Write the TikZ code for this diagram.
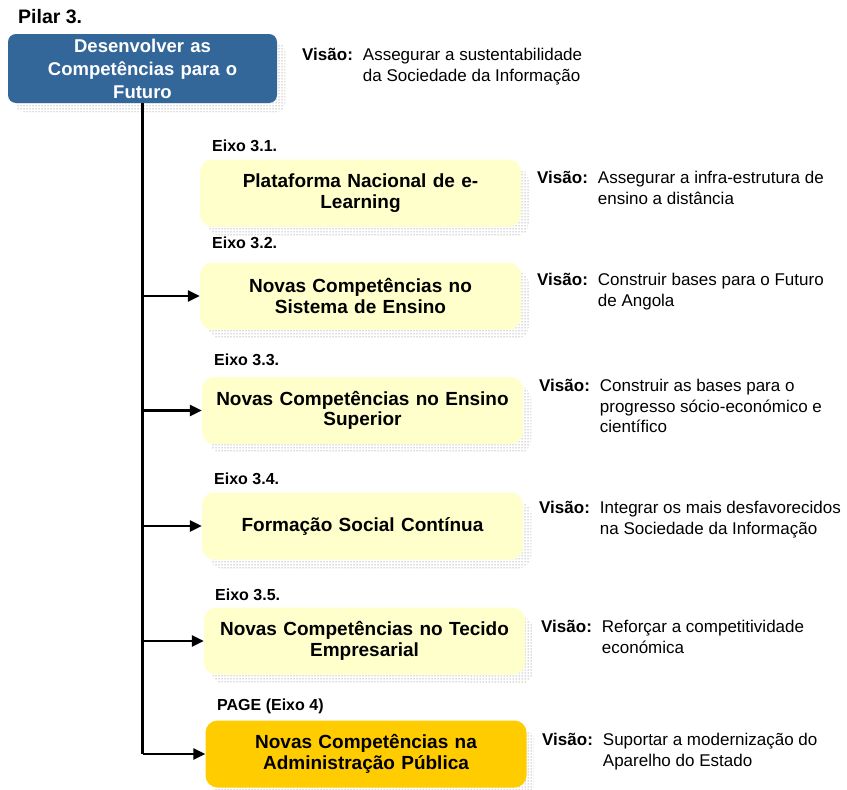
\documentclass[tikz,border=0pt]{standalone}
\usepackage{fontspec}
\setmainfont{Liberation Sans}
\usepackage{tikz}
\usetikzlibrary{arrows.meta,positioning,patterns}
\usepackage{xcolor}
\definecolor{pilarblue}{HTML}{336699}
\definecolor{eixoyellow}{HTML}{FFFFCC}
\definecolor{pageyellow}{HTML}{FFCC00}

\begin{document}
\begin{tikzpicture}[x=1pt, y=-1pt,
	dotshadow/.style={preaction={pattern=dots, pattern color=black!60,
		transform canvas={xshift=8pt, yshift=-9pt}}},
	pilarbox/.style={rounded corners=8pt, fill=pilarblue, text=white, dotshadow,
		minimum width=269pt, minimum height=69pt, text width=250pt, align=center,
		inner sep=0pt, font=\bfseries\fontsize{18.5}{23}\selectfont},
	eixobox/.style={rounded corners=12pt, fill=eixoyellow, dotshadow,
		minimum width=321pt, minimum height=67pt, text width=300pt, align=center,
		inner sep=0pt, font=\bfseries\fontsize{19}{20.5}\selectfont},
	eixolabel/.style={anchor=west, inner sep=0pt, font=\bfseries\fontsize{16}{19}\selectfont},
	visao/.style={anchor=west, inner sep=0pt, font=\fontsize{17}{20.5}\selectfont},
	seta/.style={-{Triangle[length=12pt,width=11pt]}, line width=2.4pt}]
	\useasboundingbox (0,0) rectangle (847,790);

	\node[anchor=west, inner sep=0pt, font=\bfseries\fontsize{19.5}{22}\selectfont] (pilartit) at (18,17) {Pilar 3.};
	\node[pilarbox] (pilar) at (142.5,68.5) {Desenvolver as\\Competências para o\\Futuro};
	\node[visao] (vpilar) at (302,67) {\begin{tabular}{@{}l@{\hskip 10pt}l@{}}
		\textbf{Visão:} & Assegurar a sustentabilidade\\ & da Sociedade da Informação\end{tabular}};

	% eixos
	\node[eixolabel] (lA) at (212,146) {Eixo 3.1.};
	\node[eixobox] (eixoA) at (360.5,193) {Plataforma Nacional de e-\\Learning};
	\node[visao] (vA) at (537,190) {\begin{tabular}{@{}l@{\hskip 10pt}l@{}}
		\textbf{Visão:} & Assegurar a infra-estrutura de\\ & ensino a distância\end{tabular}};

	\node[eixolabel] (lB) at (212,243) {Eixo 3.2.};
	\node[eixobox] (eixoB) at (360.5,296) {Novas Competências no\\Sistema de Ensino};
	\node[visao] (vB) at (537,292) {\begin{tabular}{@{}l@{\hskip 10pt}l@{}}
		\textbf{Visão:} & Construir bases para o Futuro\\ & de Angola\end{tabular}};

	\node[eixolabel] (lC) at (214,360) {Eixo 3.3.};
	\node[eixobox] (eixoC) at (362.5,410.5) {Novas Competências no Ensino\\Superior};
	\node[visao] (vC) at (539,408) {\begin{tabular}{@{}l@{\hskip 10pt}l@{}}
		\textbf{Visão:} & Construir as bases para o\\ & progresso sócio-económico e\\ & científico\end{tabular}};

	\node[eixolabel] (lD) at (214,479) {Eixo 3.4.};
	\node[eixobox] (eixoD) at (362.5,526) {Formação Social Contínua};
	\node[visao] (vD) at (539,520) {\begin{tabular}{@{}l@{\hskip 10pt}l@{}}
		\textbf{Visão:} & Integrar os mais desfavorecidos\\ & na Sociedade da Informação\end{tabular}};

	\node[eixolabel] (lE) at (215,595) {Eixo 3.5.};
	\node[eixobox] (eixoE) at (364.5,641) {Novas Competências no Tecido\\Empresarial};
	\node[visao] (vE) at (541,639) {\begin{tabular}{@{}l@{\hskip 10pt}l@{}}
		\textbf{Visão:} & Reforçar a competitividade\\ & económica\end{tabular}};

	\node[eixolabel] (lF) at (217,706) {PAGE (Eixo 4)};
	\node[eixobox, fill=pageyellow] (eixoF) at (366,754) {Novas Competências na\\Administração Pública};
	\node[visao] (vF) at (542,752) {\begin{tabular}{@{}l@{\hskip 10pt}l@{}}
		\textbf{Visão:} & Suportar a modernização do\\ & Aparelho do Estado\end{tabular}};

	% ligacoes
	\coordinate (tronco) at (pilar.south |- eixoF.west);
	\draw[line width=2.4pt] (pilar.south) -- (tronco);
	\draw[seta] (tronco) -- (eixoF.west);
	\draw[seta] (pilar.south |- eixoB.west) -- (eixoB.west);
	\draw[seta] (pilar.south |- eixoC.west) -- (eixoC.west);
	\draw[seta] (pilar.south |- eixoD.west) -- (eixoD.west);
	\draw[seta] (pilar.south |- eixoE.west) -- (eixoE.west);
\end{tikzpicture}
\end{document}
